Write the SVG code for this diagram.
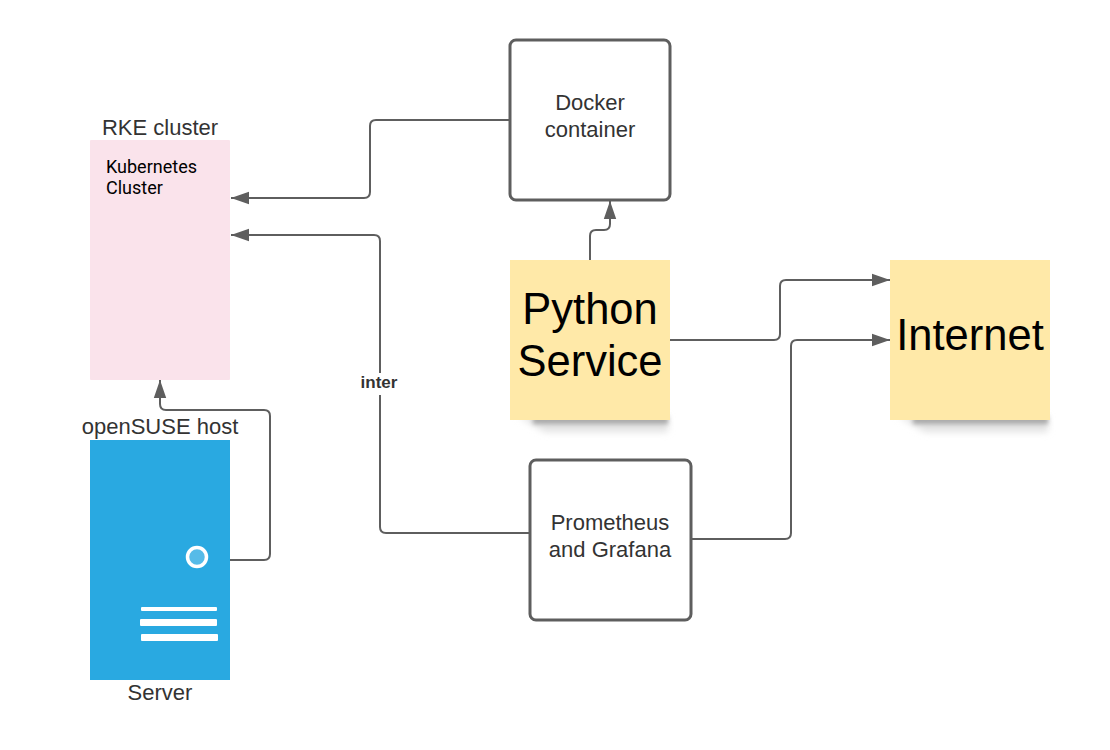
<svg xmlns="http://www.w3.org/2000/svg" width="1110" height="750" viewBox="0 0 1110 750">
<style>
.c{fill:none;stroke:#5e5e5e;stroke-width:2}
.b{fill:#fff;stroke:#5e5e5e;stroke-width:3}
.s{fill:#ffe9a8}
.t{font-family:"Liberation Sans",Arial,sans-serif;font-size:22px;fill:#333;text-anchor:middle}
.k{font-family:"Liberation Sans",Arial,sans-serif;fill:#000;text-anchor:middle;font-size:43.500px}
.r{font-family:Roboto,sans-serif;font-size:18px;fill:#000}
.w{fill:#fff}
.d{fill:#aaa;filter:url(#bl)}
.f{fill:#e2e2e2;filter:url(#bw)}
</style>
<defs>
<marker id="a" markerUnits="userSpaceOnUse" markerWidth="20" markerHeight="14" refX="18" refY="7" orient="auto"><path d="M0 .8L18 7L0 13.200Z" fill="#5e5e5e"/></marker>
<filter id="bl" x="-10%" y="-100%" width="120%" height="300%"><feGaussianBlur stdDeviation="2"/></filter>
<filter id="bw" x="-10%" y="-100%" width="120%" height="300%"><feGaussianBlur stdDeviation="3.500"/></filter>
</defs>
<g id="connectors">
<path class="c" marker-end="url(#a)" d="M510 120H376Q370 120 370 126V192Q370 198 364 198H231"/>
<path class="c" marker-end="url(#a)" d="M530 533H386Q380 533 380 527V241Q380 235 374 235H231"/>
<path class="c" marker-end="url(#a)" d="M590 260V236Q590 230 596 230H604Q610 230 610 224V201"/>
<path class="c" marker-end="url(#a)" d="M670 340H774Q780 340 780 334V286Q780 280 786 280H890"/>
<path class="c" marker-end="url(#a)" d="M691 539H785Q791 539 791 533V346Q791 340 797 340H890"/>
<path class="c" marker-end="url(#a)" d="M230 560H264Q270 560 270 554V416Q270 410 264 410H166Q160 410 160 404V380"/>
<rect x="358" y="373" width="44" height="22" fill="#fff"/>
<text x="379" y="388" font-family="'Liberation Sans',Arial,sans-serif" font-size="17" font-weight="700" fill="#333" text-anchor="middle">inter</text>
</g>
<g id="kubernetes">
<rect x="90" y="140" width="140" height="240" rx="1" fill="#fae3eb"/>
<text class="t" x="160" y="135">RKE cluster</text>
<text class="r" x="106" y="172.500">Kubernetes</text>
<text class="r" x="106" y="193.500">Cluster</text>
</g>
<g id="server">
<rect x="90" y="440" width="140" height="240" fill="#29a9e1"/>
<circle cx="197" cy="557" r="9.500" fill="#56bbe8" stroke="#fff" stroke-width="3.500"/>
<rect class="w" x="141" y="607" width="76" height="4" rx="1"/>
<rect class="w" x="140" y="619" width="77" height="7" rx="1"/>
<rect class="w" x="141" y="634" width="77" height="7" rx="1"/>
<text class="t" x="160" y="434">openSUSE host</text>
<text class="t" x="160" y="700">Server</text>
</g>
<g id="docker">
<rect class="b" x="510" y="40" width="160" height="160" rx="6"/>
<text class="t" x="590" y="109.500">Docker</text>
<text class="t" x="590" y="136.500">container</text>
</g>
<g id="python">
<path class="f" d="M518 416H668V432H545Z"/>
<rect class="d" x="533" y="416" width="135" height="8"/>
<rect class="s" x="510" y="260" width="160" height="160"/>
<text class="k" x="590" y="324">Python</text>
<text class="k" x="590" y="376">Service</text>
</g>
<g id="internet">
<path class="f" d="M898 416H1048V432H925Z"/>
<rect class="d" x="913" y="416" width="135" height="8"/>
<rect class="s" x="890" y="260" width="160" height="160"/>
<text class="k" x="970" y="350">Internet</text>
</g>
<g id="prometheus">
<rect class="b" x="530" y="460" width="161" height="160" rx="6"/>
<text class="t" x="610" y="529.500">Prometheus</text>
<text class="t" x="610" y="556.500">and Grafana</text>
</g>
</svg>
